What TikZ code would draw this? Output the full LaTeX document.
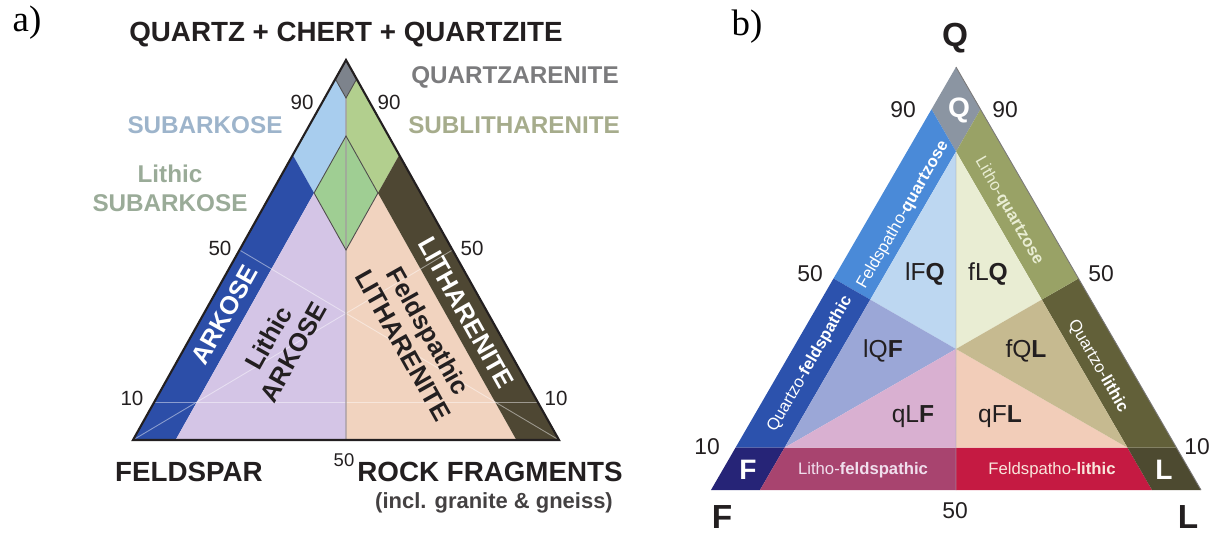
\documentclass[tikz,border=0pt]{standalone}
\usepackage{fontspec}
\setmainfont{Liberation Sans}
\newfontfamily\panelfont{Liberation Serif}
\usepackage{xcolor}
\usetikzlibrary{positioning,calc}

% text colours
\definecolor{ink}{HTML}{231F20}
\definecolor{qzarTxt}{HTML}{7B7B7D}
\definecolor{slTxt}{HTML}{A6AC8C}
\definecolor{saTxt}{HTML}{9DB4CB}
\definecolor{lsTxt}{HTML}{9AAB98}
% fields, panel a
\definecolor{qzGrey}{HTML}{7D838C}
\definecolor{subArk}{HTML}{A8CDEE}
\definecolor{subLit}{HTML}{B2CF8E}
\definecolor{litSub}{HTML}{9FCE93}
\definecolor{arkBlue}{HTML}{2C4EA8}
\definecolor{litArk}{HTML}{D4C5E6}
\definecolor{felLit}{HTML}{F1D3BF}
\definecolor{litBrown}{HTML}{4E4733}
\definecolor{midLine}{HTML}{A39A9E}
% fields, panel b
\definecolor{qGrey}{HTML}{8B95A2}
\definecolor{fqBlue}{HTML}{4A8AD8}
\definecolor{qfBlue}{HTML}{2C52AD}
\definecolor{fNavy}{HTML}{262477}
\definecolor{lfMag}{HTML}{A8446F}
\definecolor{flRed}{HTML}{C51A42}
\definecolor{lOlive}{HTML}{4D4A30}
\definecolor{qlOlive}{HTML}{626039}
\definecolor{lqGreen}{HTML}{99A266}
\definecolor{lFQc}{HTML}{BDD7F1}
\definecolor{fLQc}{HTML}{E9EDD3}
\definecolor{lQFc}{HTML}{9BA7D7}
\definecolor{fQLc}{HTML}{C6BA90}
\definecolor{qLFc}{HTML}{D9B0D1}
\definecolor{qFLc}{HTML}{F2CDB9}

\begin{document}
\begin{tikzpicture}[x=0.02cm, y=-0.02cm,
    num/.style={font=\fontsize{11.7}{14}\selectfont, text=ink, inner sep=0pt},
    pole/.style={font=\bfseries\fontsize{15.8}{18}\selectfont, text=ink, inner sep=0pt},
    note/.style={font=\bfseries\fontsize{12.5}{15}\selectfont, text=ink!85, inner sep=0pt},
    field/.style={font=\bfseries\fontsize{13.8}{16.5}\selectfont, inner sep=0pt, align=center},
    inside/.style={font=\bfseries\fontsize{14.5}{16.5}\selectfont, inner sep=0pt, align=center},
    panel/.style={font=\panelfont\fontsize{21}{24}\selectfont, inner sep=0pt},
    corner/.style={font=\bfseries\fontsize{19}{22}\selectfont, text=ink, inner sep=0pt},
    tag/.style={font=\bfseries\fontsize{16}{19}\selectfont, text=white, inner sep=0pt},
    code/.style={font=\fontsize{14}{16}\selectfont, text=ink, inner sep=0pt},
    strip/.style={font=\fontsize{9.5}{11}\selectfont, inner sep=0pt},
    guide/.style={white, opacity=0.45, line width=0.5pt},
    edge/.style={ink!80, line width=0.5pt},
    frame/.style={ink, line width=1.2pt, line join=miter}
  ]
  \useasboundingbox (0,0) rectangle (1217,533);

  % a) quartz - feldspar - rock fragments
  \coordinate (aQ) at (346,60);
  \coordinate (aF) at (133,440);
  \coordinate (aR) at (559,440);
  \foreach \n/\q/\f/\r in {kl/.95/.05/0, kc/.9/.05/.05, kr/.95/0/.05,
      sl/.75/.25/0, dt/.8/.1/.1, dl/.65/.25/.1, db/.5/.25/.25, dr/.65/.1/.25,
      sr/.75/0/.25, bl/0/.9/.1, bm/0/.5/.5, br/0/.1/.9,
      ml/.5/.5/0, mr/.5/0/.5, tl/.1/.9/0, tr/.1/0/.9}
    \coordinate (a\n) at (barycentric cs:aQ=\q,aF=\f,aR=\r);

  \fill[qzGrey] (aQ) -- (akl) -- (akc) -- (akr) -- cycle;
  \fill[subArk] (akl) -- (asl) -- (adl) -- (adt) -- (akc) -- cycle;
  \fill[subLit] (akr) -- (asr) -- (adr) -- (adt) -- (akc) -- cycle;
  \fill[litSub] (adt) -- (adl) -- (adb) -- (adr) -- cycle;
  \fill[arkBlue] (asl) -- (aF) -- (abl) -- (adl) -- cycle;
  \fill[litArk] (adl) -- (abl) -- (abm) -- (adb) -- cycle;
  \fill[felLit] (adr) -- (adb) -- (abm) -- (abr) -- cycle;
  \fill[litBrown] (asr) -- (adr) -- (abr) -- (aR) -- cycle;

  \draw[guide] (aF) -- (amr);
  \draw[guide] (aR) -- (aml);
  \draw[guide] (atl) -- (atr);
  \draw[midLine, line width=0.6pt] (akc) -- (abm);
  \draw[edge] (akl) -- (akc) -- (akr);
  \draw[edge] (adt) -- (adl) -- (adb) -- (adr) -- cycle;
  \draw[frame] (aQ) -- (aF) -- (aR) -- cycle;
  \draw[ink, line width=1.6pt] (aF) -- (aR);

  \node[panel] (tagA) at (27,23) {a)};
  \node[pole] (topA) at (346,35) {QUARTZ + CHERT + QUARTZITE};
  \node[pole] (feld) at (189,472) {FELDSPAR};
  \node[pole] (rock) at (490,472) {ROCK FRAGMENTS};
  \node[note] (rockNote) at (494,503) {(incl. granite \& gneiss)};
  \node[field, text=qzarTxt] (qzar) at (515,77) {QUARTZARENITE};
  \node[field, text=slTxt] (sublit) at (514,125) {SUBLITHARENITE};
  \node[field, text=saTxt] (subark) at (205,125) {SUBARKOSE};
  \node[field, text=lsTxt] (litsub) at (170,188) {Lithic\\SUBARKOSE};
  \node[inside, text=white, rotate=60.7] (ark) at (225,315) {ARKOSE};
  \node[inside, text=ink, rotate=60.7] (litark) at (281,345) {Lithic\\ARKOSE};
  \node[inside, text=white, rotate=-60.7] (lith) at (466,313) {LITHARENITE};
  \node[inside, text=ink, rotate=-60.7] (fellit) at (416,338) {Feldspathic\\LITHARENITE};

  \node[num] (a90l) at (302,102) {90};
  \node[num] (a90r) at (389,102) {90};
  \node[num] (a50l) at (220,248) {50};
  \node[num] (a50r) at (472,248) {50};
  \node[num] (a10l) at (132,398) {10};
  \node[num] (a10r) at (556,398) {10};
  \node[num, font=\fontsize{10.5}{12}\selectfont] (a50b) at (344,460) {50};

  % b) Q - F - L
  \coordinate (bQ) at (956,67);
  \coordinate (bF) at (711,490);
  \coordinate (bL) at (1201,490);
  \foreach \n/\q/\f/\l in {1/.9/.1/0, 2/.8/.1/.1, 3/.9/0/.1, 4/.5/.5/0, 5/.45/.45/.1,
      6/.1/.9/0, 7/.1/.8/.1, 8/0/.9/.1, 9/0/.5/.5, 10/.1/.45/.45,
      11/0/.1/.9, 12/.1/.1/.8, 13/.1/0/.9, 14/.5/0/.5, 15/.45/.1/.45, c/1/1/1}
    \coordinate (b\n) at (barycentric cs:bQ=\q,bF=\f,bL=\l);

  \fill[qGrey] (bQ) -- (b1) -- (b2) -- (b3) -- cycle;
  \fill[fqBlue] (b1) -- (b4) -- (b5) -- (b2) -- cycle;
  \fill[qfBlue] (b4) -- (b6) -- (b7) -- (b5) -- cycle;
  \fill[fNavy] (b6) -- (bF) -- (b8) -- (b7) -- cycle;
  \fill[lfMag] (b7) -- (b8) -- (b9) -- (b10) -- cycle;
  \fill[flRed] (b10) -- (b9) -- (b11) -- (b12) -- cycle;
  \fill[lOlive] (b12) -- (b11) -- (bL) -- (b13) -- cycle;
  \fill[qlOlive] (b13) -- (b12) -- (b15) -- (b14) -- cycle;
  \fill[lqGreen] (b14) -- (b15) -- (b2) -- (b3) -- cycle;
  \fill[lFQc] (b2) -- (b5) -- (bc) -- cycle;
  \fill[fLQc] (b2) -- (bc) -- (b15) -- cycle;
  \fill[lQFc] (b5) -- (b7) -- (bc) -- cycle;
  \fill[qLFc] (b7) -- (b10) -- (bc) -- cycle;
  \fill[qFLc] (b10) -- (b12) -- (bc) -- cycle;
  \fill[fQLc] (b12) -- (b15) -- (bc) -- cycle;
  \draw[qGrey!80, line width=0.4pt, opacity=0.6] (b2) -- (b9);
  \draw[ink!60, line width=0.5pt] (bQ) -- (bL);

  \node[panel] (tagB) at (747,27) {b)};
  \node[corner] (poleQ) at (955,38) {Q};
  \node[corner] (poleF) at (722,517) {F};
  \node[corner] (poleL) at (1188,517) {L};
  \node[tag] (tagQ) at (959,110) {Q};
  \node[tag] (tagF) at (748,470) {F};
  \node[tag] (tagL) at (1164,470) {L};

  \node[num, font=\fontsize{13}{15}\selectfont] (b90l) at (903,110) {90};
  \node[num, font=\fontsize{13}{15}\selectfont] (b90r) at (1005,110) {90};
  \node[num, font=\fontsize{13}{15}\selectfont] (b50l) at (810,274) {50};
  \node[num, font=\fontsize{13}{15}\selectfont] (b50r) at (1101,274) {50};
  \node[num, font=\fontsize{13}{15}\selectfont] (b10l) at (707,447) {10};
  \node[num, font=\fontsize{13}{15}\selectfont] (b10r) at (1197,447) {10};
  \node[num, font=\fontsize{13}{15}\selectfont] (b50b) at (955,511) {50};

  \node[code] (lFQ) at (925,274) {lF\textbf{Q}};
  \node[code] (fLQ) at (988,274) {fL\textbf{Q}};
  \node[code] (lQF) at (883,351) {lQ\textbf{F}};
  \node[code] (fQL) at (1026,351) {fQ\textbf{L}};
  \node[code] (qLF) at (913,417) {qL\textbf{F}};
  \node[code] (qFL) at (1000,417) {qF\textbf{L}};

  \node[strip, text=white, rotate=60] (fq) at (903,215) {Feldspatho-\textbf{quartzose}};
  \node[strip, text=white, rotate=60] (qf) at (810,364) {Quartzo-\textbf{feldspathic}};
  \node[strip, text=fLQc, rotate=-60] (lq) at (1009,211) {Litho-\textbf{quartzose}};
  \node[strip, text=white, rotate=-60] (ql) at (1098,366) {Quartzo-\textbf{lithic}};
  \node[strip, text=qLFc!40] (lf) at (863,470) {Litho-\textbf{feldspathic}};
  \node[strip, text=qFLc!50] (fl) at (1052,470) {Feldspatho-\textbf{lithic}};
\end{tikzpicture}
\end{document}
